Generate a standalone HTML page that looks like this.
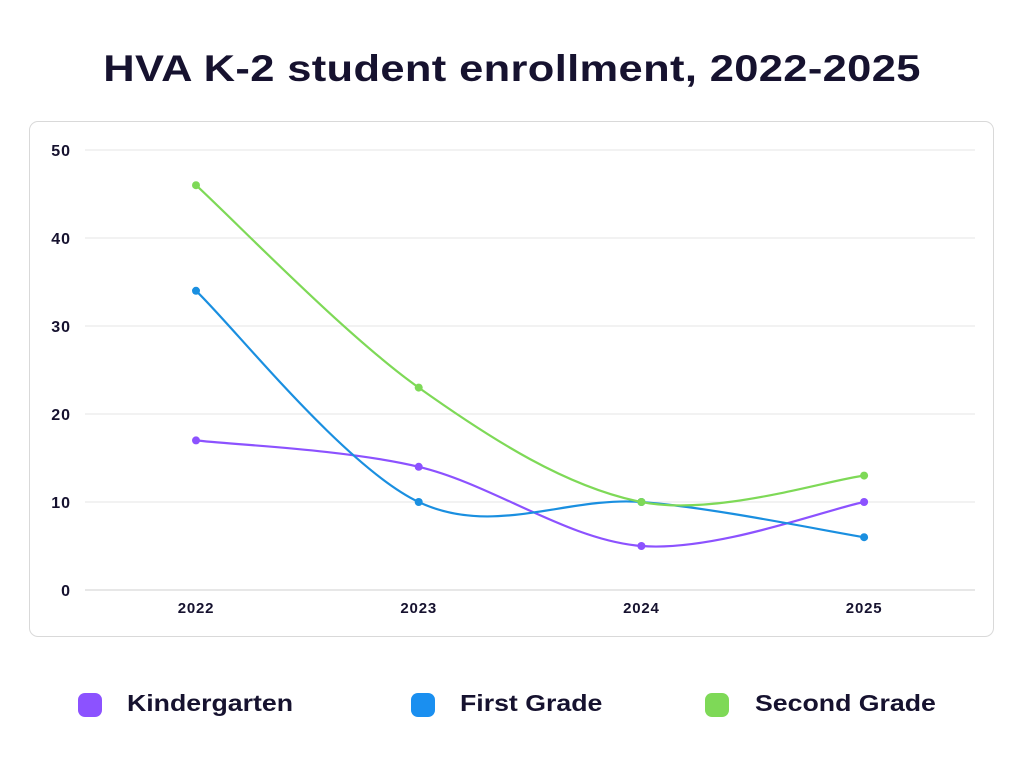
<!DOCTYPE html>
<html><head><meta charset="utf-8">
<style>
html,body{margin:0;padding:0;background:#fff;width:1024px;height:768px;overflow:hidden;font-family:"Liberation Sans",sans-serif;}
#title{position:absolute;left:0;top:48px;width:1024px;text-align:center;font-size:37px;font-weight:bold;color:#16122f;letter-spacing:0.3px;transform:scaleX(1.175);transform-origin:512px 0;}
#card{position:absolute;left:29px;top:121px;width:963px;height:514px;border:1.5px solid #d9d9d9;border-radius:9px;}
svg{position:absolute;left:0;top:0;}
.leg{position:absolute;top:690px;font-size:23px;font-weight:bold;color:#16122f;transform:scaleX(1.16);transform-origin:0 0;}
.dot{position:absolute;top:693px;width:24px;height:24px;border-radius:7px;}
</style></head><body>
<div id="title">HVA K-2 student enrollment, 2022-2025</div>
<div id="card"></div>
<svg id="chart" width="1024" height="768"></svg>
<div class="dot" style="left:78px;background:#8c52ff"></div>
<div class="leg" style="left:127px">Kindergarten</div>
<div class="dot" style="left:411px;background:#1a8ff0"></div>
<div class="leg" style="left:460px">First Grade</div>
<div class="dot" style="left:705px;background:#7ed957"></div>
<div class="leg" style="left:755px">Second Grade</div>
<script>
const categories = ["2022","2023","2024","2025"];
const kindergarten = [17,14,5,10];
const firstGrade = [34,10,10,6];
const secondGrade = [46,23,10,13];
const yTicks = [0,10,20,30,40,50];
const NS="http://www.w3.org/2000/svg";
const svg=document.getElementById('chart');
const x0=85,x1=975,yBase=590,yTop=150;
function xs(i){return 196+i*222.7;}
function ys(v){return yBase-(v/50)*(yBase-yTop);}
function mk(t,a){const e=document.createElementNS(NS,t);for(const k in a)e.setAttribute(k,a[k]);svg.appendChild(e);return e;}
yTicks.forEach(t=>{
  const g=mk('line',{x1:x0,x2:x1,y1:ys(t),y2:ys(t),stroke:t===0?'#cfcfcf':'#e6e6e6','stroke-width':1});
  
  
  const l=mk('text',{x:71,y:ys(t)+6,'text-anchor':'end','font-size':16,'font-weight':'bold',fill:'#16122f','letter-spacing':1,'font-family':'Liberation Sans, sans-serif'});
  l.textContent=t;
  
  
});
categories.forEach((c,i)=>{
  const l=mk('text',{x:xs(i),y:613,'text-anchor':'middle','font-size':15,'font-weight':'bold',fill:'#16122f','letter-spacing':0.8,'font-family':'Liberation Sans, sans-serif'});
  l.textContent=c;
  
  
});
function curve(vals){
  const p=vals.map((v,i)=>[xs(i),ys(v)]);
  let d='M'+p[0][0]+','+p[0][1];
  const t=0.5/3*2;
  for(let i=0;i<p.length-1;i++){
    const p0=p[i-1]||p[i],p1=p[i],p2=p[i+1],p3=p[i+2]||p2;
    const c1=[p1[0]+(p2[0]-p0[0])*t/2,p1[1]+(p2[1]-p0[1])*t/2];
    const c2=[p2[0]-(p3[0]-p1[0])*t/2,p2[1]-(p3[1]-p1[1])*t/2];
    d+=' C'+c1+' '+c2+' '+p2;
  }
  return d;
}
[[kindergarten,'#8c52ff','kindergarten'],[firstGrade,'#1a8fe0','first-grade'],[secondGrade,'#7ed957','second-grade']].forEach(([vals,col,n])=>{
  const p=mk('path',{d:curve(vals),fill:'none',stroke:col,'stroke-width':2.2});
  
  
  vals.forEach((v,i)=>{
    const c=mk('circle',{cx:xs(i),cy:ys(v),r:4,fill:col});
    
    
  });
});
</script>
</body></html>
